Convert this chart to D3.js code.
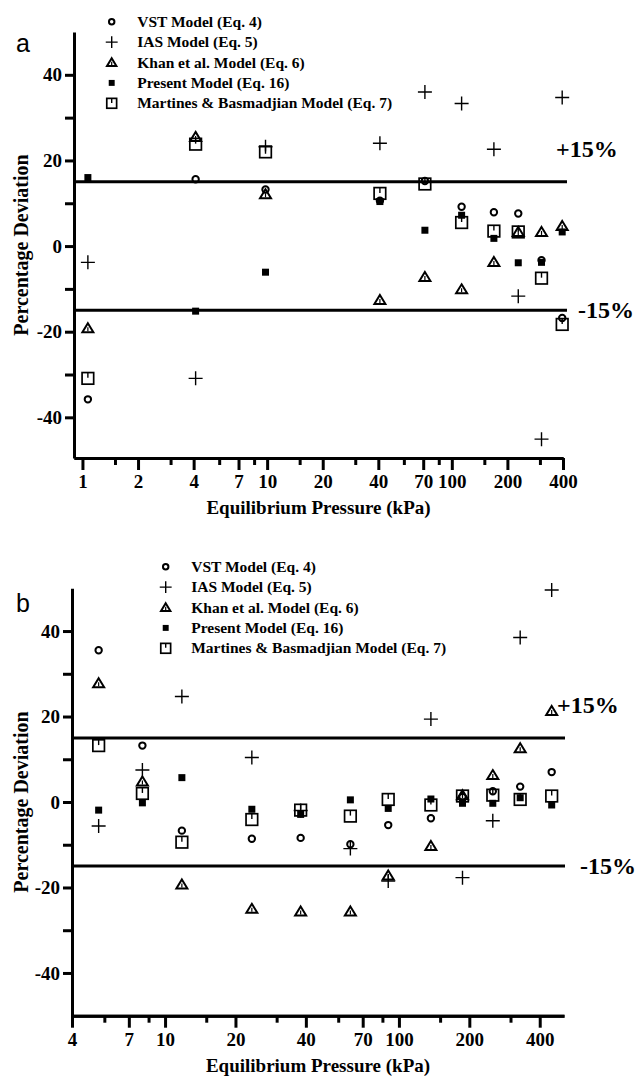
<html>
<head>
<meta charset="utf-8">
<script src="https://d3js.org/d3.v7.min.js"></script>
<style>
  body { margin: 0; background: #fff; }
  .axis path, .axis line { stroke: #000; stroke-width: 3; fill: none; }
  .axis .minor line { stroke-width: 2; }
  .axis text { font-family: "Liberation Serif", "Times New Roman", serif; font-weight: bold; font-size: 19px; fill: #000; }
  .legend text { font-family: "Liberation Serif", "Times New Roman", serif; font-weight: bold; font-size: 15.5px; }
  .title { font-family: "Liberation Serif", "Times New Roman", serif; font-weight: bold; font-size: 19px; }
  .ytitle { font-family: "Liberation Serif", "Times New Roman", serif; font-weight: bold; font-size: 20px; }
  .pct { font-family: "Liberation Serif", "Times New Roman", serif; font-weight: bold; font-size: 24px; }
  .panel-tag { font-family: "Liberation Sans", Arial, sans-serif; font-size: 25px; }
</style>
</head>
<body>
<script>
// ---- data: panel a ----
var P_A = [1.07, 4.1, 9.8, 40.8, 71.5, 113, 169, 229, 306, 396];
var VST_A = [-35.8, 15.6, 13.2, 10.6, 15.2, 9.2, 7.9, 7.6, -3.3, -16.8];
var IAS_A = [-3.8, -30.9, 23.2, 24.0, 36.0, 33.3, 22.6, -11.7, -45.1, 34.7];
var KHAN_A = [-19.2, 25.5, 12.1, -12.6, -7.2, -10.1, -3.7, 3.3, 3.3, 4.7];
var PRESENT_A = [16.0, -15.2, -6.1, 10.4, 3.7, 7.2, 1.8, -3.9, -3.8, 3.3];
var MB_A = [-30.9, 23.8, 22.0, 12.3, 14.5, 5.5, 3.5, 3.3, -7.5, -18.3];

// ---- data: panel b ----
var P_B = [5.2, 8.0, 11.8, 23.5, 38, 62, 90, 137, 187, 252, 330, 450];
var VST_B = [35.5, 13.2, -6.7, -8.6, -8.4, -9.9, -5.4, -3.8, 1.2, 2.5, 3.6, 7.0];
var IAS_B = [-5.6, 7.5, 24.7, 10.4, -2.0, -10.9, -18.5, 19.4, -17.7, -4.4, 38.5, 49.6];
var KHAN_B = [27.8, 4.8, -19.3, -25.0, -25.6, -25.6, -17.2, -10.3, 1.6, 6.3, 12.6, 21.3];
var PRESENT_B = [-1.9, -0.2, 5.7, -1.7, -2.9, 0.5, -1.5, 0.7, -0.3, -0.3, 1.0, -0.7];
var MB_B = [13.2, 2.0, -9.4, -4.1, -1.9, -3.3, 0.6, -0.7, 1.4, 1.6, 0.6, 1.4];

// ---- ticks and labels ----
var XMAJOR_A = [1, 2, 4, 7, 10, 20, 40, 70, 100, 200, 400];
var XMAJOR_B = [4, 7, 10, 20, 40, 70, 100, 200, 400];
var XMINOR = [1.5, 3, 5.5, 8.5, 15, 30, 55, 85, 150, 300];
var YTICKS = [-40, -30, -20, -10, 0, 10, 20, 30, 40];
var LIMITS = [15, -15];
var SERIES = ["VST Model (Eq. 4)", "IAS Model (Eq. 5)", "Khan et al. Model (Eq. 6)",
              "Present Model (Eq. 16)", "Martines & Basmadjian Model (Eq. 7)"];
var MARKERS = ["circle", "plus", "triangle", "filled", "mb"];

var svg = d3.select("body").append("svg")
    .attr("width", 641)
    .attr("height", 1080);

// draw one marker shape into a group, centred on 0,0
function marker(g, type, k) {
    k = k || 1;
    if (type == "circle") {
        g.append("circle").attr("r", 3.2 * k).attr("fill", "none")
         .attr("stroke", "#000").attr("stroke-width", 2);
    } else if (type == "plus") {
        g.append("path").attr("d", "M" + (-7 * k) + ",0H" + (7 * k) + "M0," + (-7 * k) + "V" + (7 * k))
         .attr("stroke", "#000").attr("stroke-width", 1.4);
    } else if (type == "triangle") {
        g.append("path").attr("d", "M0," + (-5 * k) + "L" + (5.5 * k) + "," + (4 * k) + "L" + (-5.5 * k) + "," + (4 * k) + "Z")
         .attr("fill", "none").attr("stroke", "#000").attr("stroke-width", 2).attr("stroke-linejoin", "miter");
        g.append("path").attr("d", "M0," + (-1 * k) + "V" + (3 * k))
         .attr("stroke", "#000").attr("stroke-width", 1.2);
    } else if (type == "filled") {
        g.append("rect").attr("x", -3.5 * k).attr("y", -3.5 * k)
         .attr("width", 7 * k).attr("height", 7 * k).attr("fill", "#000");
    } else if (type == "mb") {
        g.append("rect").attr("x", -5.8 * k).attr("y", -5.8 * k)
         .attr("width", 11.6 * k).attr("height", 11.6 * k)
         .attr("fill", "none").attr("stroke", "#000").attr("stroke-width", 1.7);
        g.append("path").attr("d", "M0," + (-5.8 * k) + "V" + (-0.5 * k))
         .attr("stroke", "#000").attr("stroke-width", 1.4);
    }
}

function panel(opt) {
    var x = d3.scaleLog().domain(opt.xDomain).range(opt.xRange);
    var y = d3.scaleLinear().domain(opt.yDomain).range(opt.yRange);
    var g = svg.append("g");
    var x0 = opt.xRange[0], yb = opt.yRange[0];

    // +/- 15% lines
    g.selectAll(".limit").data(LIMITS).enter().append("line")
        .attr("x1", x0).attr("x2", opt.lineEnd)
        .attr("y1", function(d){ return y(d); })
        .attr("y2", function(d){ return y(d); })
        .attr("stroke", "#000").attr("stroke-width", 3);

    // x axis, labelled ticks then minor ticks
    g.append("g").attr("class", "axis")
        .attr("transform", "translate(0," + yb + ")")
        .call(d3.axisBottom(x).tickValues(opt.xMajor)
              .tickFormat(function(d){ return d; })
              .tickSize(12).tickSizeOuter(0).tickPadding(5));
    g.append("g").attr("class", "axis minor")
        .attr("transform", "translate(0," + yb + ")")
        .call(d3.axisBottom(x).tickValues(XMINOR.filter(function(d){ return d > opt.xDomain[0]; }))
              .tickFormat("").tickSize(7).tickSizeOuter(0));

    // y axis
    g.append("g").attr("class", "axis")
        .attr("transform", "translate(" + x0 + ",0)")
        .call(d3.axisLeft(y).tickValues(YTICKS)
              .tickFormat(function(d){ return d % 20 == 0 ? String(d) : ""; })
              .tickSize(9).tickSizeOuter(0).tickPadding(3));

    // points, one series at a time
    var order = [4, 2, 0, 1, 3];
    order.forEach(function(i) {
        var vals = opt.series[i];
        g.selectAll(".m" + i).data(vals).enter().append("g")
            .attr("transform", function(d, j){ return "translate(" + x(opt.p[j]) + "," + y(d) + ")"; })
            .each(function(){ marker(d3.select(this), MARKERS[i]); });
    });

    // legend
    var leg = g.append("g").attr("class", "legend");
    SERIES.forEach(function(name, i) {
        var row = leg.append("g").attr("transform", "translate(" + opt.legX + "," + (opt.legY + i * 20.4) + ")");
        marker(row, MARKERS[i], 0.85);
        row.append("text").attr("x", 25.5).attr("y", 5).text(name);
    });

    // labels
    g.append("text").attr("class", "pct").attr("x", opt.plusX).attr("y", y(15) - 25).text("+15%");
    g.append("text").attr("class", "pct").attr("x", opt.minusX).attr("y", y(-15) + 8).text("-15%");
    g.append("text").attr("class", "panel-tag").attr("x", 16).attr("y", opt.tagY).text(opt.tag);
    g.append("text").attr("class", "title").attr("text-anchor", "middle")
        .attr("x", (x0 + opt.xRange[1]) / 2).attr("y", yb + 56)
        .text("Equilibrium Pressure (kPa)");
    g.append("text").attr("class", "ytitle").attr("text-anchor", "middle")
        .attr("transform", "translate(28," + (opt.yRange[0] + opt.yRange[1]) / 2 + ") rotate(-90)")
        .text("Percentage Deviation");
}

panel({
    tag: "a", tagY: 52,
    p: P_A, series: [VST_A, IAS_A, KHAN_A, PRESENT_A, MB_A],
    xDomain: [0.9, 400], xRange: [74, 563],
    yDomain: [-49.5, 50], yRange: [458, 32],
    xMajor: XMAJOR_A, lineEnd: 567,
    legX: 111.7, legY: 21.7,
    plusX: 556, minusX: 578
});

panel({
    tag: "b", tagY: 612,
    p: P_B, series: [VST_B, IAS_B, KHAN_B, PRESENT_B, MB_B],
    xDomain: [4, 508], xRange: [72, 564],
    yDomain: [-50, 50], yRange: [1015.7, 588.3],
    xMajor: XMAJOR_B, lineEnd: 565,
    legX: 165.7, legY: 566.7,
    plusX: 557, minusX: 580
});
</script>
</body>
</html>
